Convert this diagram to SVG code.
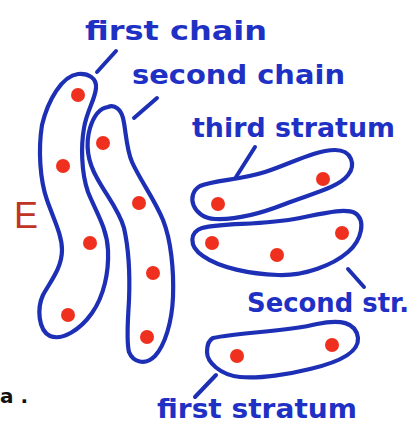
<svg xmlns="http://www.w3.org/2000/svg" width="415" height="427" viewBox="0 0 415 427">
<style>
.blob{fill:none;stroke:#1d2fb4;stroke-width:4.2;stroke-linejoin:round}
.dot{fill:#f0301e}
.lead{stroke:#1d2fb4;stroke-width:4;stroke-linecap:round}
.lbl{font-family:"DejaVu Sans",sans-serif;font-size:27px;font-weight:bold;fill:#1f30c4}
</style>
<rect width="415" height="427" fill="#ffffff"/>
<g id="first-chain">
<path class="blob" d="M 96,88 C 97,78 88,73 78,74 C 62,76 48,100 42,125 C 38,150 40,180 47,200 C 54,220 62,235 62,250 C 62,268 50,282 43,295 C 37,308 38,330 50,336 C 62,341 80,330 92,313 C 104,296 109,272 108,250 C 107,228 96,212 88,192 C 81,172 81,145 84,128 C 87,110 95,100 96,88 Z"/>
<circle class="dot" cx="78" cy="95" r="7"/>
<circle class="dot" cx="63" cy="166" r="7"/>
<circle class="dot" cx="90" cy="243" r="7"/>
<circle class="dot" cx="68" cy="315" r="7"/>
</g>
<g id="second-chain">
<path class="blob" d="M 108,107 C 115,104 121,110 123,118 C 126,130 126,148 132,162 C 140,180 155,200 163,220 C 171,240 174,270 173,297 C 172,322 165,345 155,356 C 145,366 133,362 129,352 C 126,340 128,320 129,300 C 130,275 129,250 124,228 C 119,210 106,195 97,178 C 88,162 85,145 90,128 C 94,115 101,108 108,107 Z"/>
<circle class="dot" cx="103" cy="143" r="7"/>
<circle class="dot" cx="139" cy="203" r="7"/>
<circle class="dot" cx="153" cy="273" r="7"/>
<circle class="dot" cx="147" cy="337" r="7"/>
</g>
<g id="third-stratum">
<path class="blob" d="M 200,186 C 215,180 240,180 265,172 C 290,164 315,150 335,150 C 352,150 356,165 348,175 C 338,188 310,194 285,204 C 262,213 235,220 215,219 C 193,218 185,195 200,186 Z"/>
<circle class="dot" cx="218" cy="204" r="7"/>
<circle class="dot" cx="323" cy="179" r="7"/>
</g>
<g id="second-stratum">
<path class="blob" d="M 202,228 C 225,222 260,226 300,218 C 325,213 345,208 355,213 C 366,220 362,240 348,252 C 333,265 305,276 278,275 C 250,274 220,268 203,256 C 188,246 190,232 202,228 Z"/>
<circle class="dot" cx="212" cy="243" r="7"/>
<circle class="dot" cx="277" cy="255" r="7"/>
<circle class="dot" cx="342" cy="233" r="7"/>
</g>
<g id="first-stratum">
<path class="blob" d="M 213,338 C 240,332 285,332 317,324 C 340,319 356,322 358,338 C 359,352 340,362 310,369 C 290,374 260,379 240,377 C 220,375 207,362 207,352 C 207,344 209,340 213,338 Z"/>
<circle class="dot" cx="237" cy="356" r="7"/>
<circle class="dot" cx="332" cy="345" r="7"/>
</g>
<g id="connectors">
<line class="lead" x1="116" y1="51" x2="97" y2="72"/>
<line class="lead" x1="157" y1="98" x2="134" y2="118"/>
<line class="lead" x1="255" y1="147" x2="236" y2="177"/>
<line class="lead" x1="348" y1="269" x2="364" y2="287"/>
<line class="lead" x1="216" y1="375" x2="195" y2="397"/>
</g>
<g id="labels">
<text class="lbl" x="85" y="40" textLength="182" lengthAdjust="spacingAndGlyphs">first chain</text>
<text class="lbl" x="132" y="84" textLength="213" lengthAdjust="spacingAndGlyphs">second chain</text>
<text class="lbl" x="192" y="137" textLength="203" lengthAdjust="spacingAndGlyphs">third stratum</text>
<text class="lbl" x="247" y="312" textLength="162" lengthAdjust="spacingAndGlyphs">Second str.</text>
<text class="lbl" x="157" y="418" textLength="200" lengthAdjust="spacingAndGlyphs">first stratum</text>
<text x="14" y="228" font-family="Liberation Sans, sans-serif" font-size="36" fill="#bf3424">E</text>
<text x="0" y="403" font-family="DejaVu Sans, sans-serif" font-size="20" font-weight="bold" fill="#111111">a .</text>
</g>
</svg>
